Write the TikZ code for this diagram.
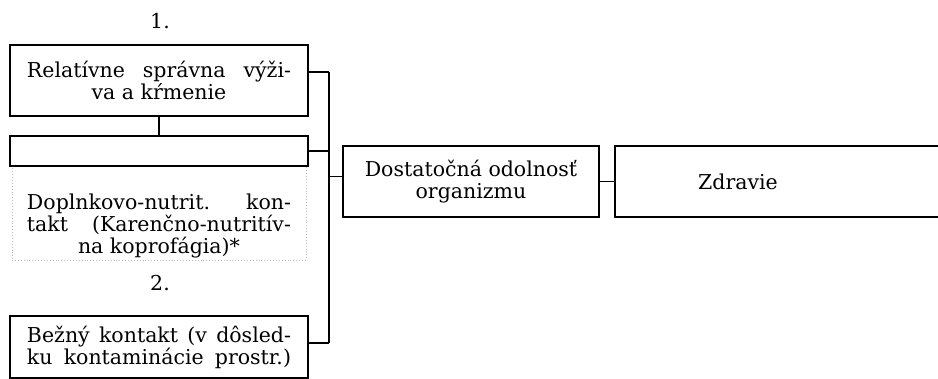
\documentclass[tikz,border=0pt]{standalone}
\usepackage{fontspec}
\setmainfont{DejaVu Serif}

% stretched line, as the typeset boxes are justified
\newcommand{\jline}[1]{\makebox[264pt][s]{#1}}

\begin{document}
\begin{tikzpicture}[x=1pt,y=-1pt,line width=1.2pt,
    every node/.style={font=\fontsize{20.5}{22}\selectfont},
    box/.style={draw, line width=1.5pt, minimum width=298pt, align=center, inner sep=0pt},
    dotbox/.style={draw=gray!55, dotted, line width=0.9pt, minimum width=294pt, minimum height=94pt, inner sep=0pt},
    txt/.style={align=center, inner sep=0pt}]
      \useasboundingbox (0,0) rectangle (938,379);

      % Left column
        \node[txt] (n1) at (160,21) {1.};
        \node[box, minimum height=71pt] (rel) at (159,80.5) {\jline{Relatívne správna výži-}\\va a kŕmenie};
        \node[dotbox] (dopl) at (159,213) {};
        \node[box, minimum height=30pt] (empty) at (159,151) {};
        \node[txt] (doplt) at (159,226) {\jline{Doplnkovo-nutrit. kon-}\\\jline{takt (Karenčno-nutritív-}\\na koprofágia)*};
        \node[txt] (n2) at (160,283) {2.};
        \node[box, minimum height=62pt] (bez) at (159,347) {\jline{Bežný kontakt (v dôsled-}\\\jline{ku kontaminácie prostr.)}};

      % Right side
        \node[box, minimum width=256pt, minimum height=71pt] (dost) at (471,181.5) {Dostatočná odolnosť\\organizmu};
        \node[box, minimum width=340pt, minimum height=71pt] (zdr) at (785,181.5) {};
        \node[txt] (zdrt) at (738,181.5) {Zdravie};

      % Bracket
        \coordinate (bt) at (329,72);
        \coordinate (bb) at (329,343);
        \coordinate (din) at ([yshift=5pt]dost.west);

        \draw (rel) -- (empty);
        \draw (bt) -- (bb);
        \draw (rel.east |- bt) -- (bt);
        \draw (empty.east) -- (empty.east -| bt);
        \draw (bez.east |- bb) -- (bb);
        \draw (din) -- (din -| bt);
        \draw (dost.east) -- (zdr.west);

    \end{tikzpicture}
\end{document}
